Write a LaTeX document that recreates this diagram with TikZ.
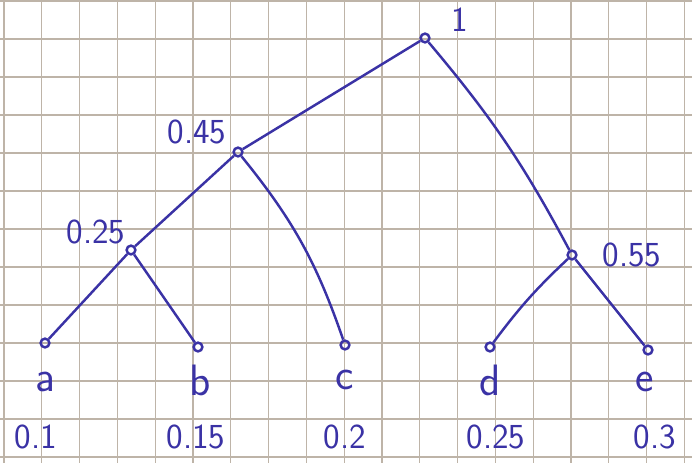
\documentclass[tikz,border=0pt]{standalone}
\usepackage{tikz}
\usetikzlibrary{positioning}
\definecolor{penblue}{RGB}{58,50,165}
\definecolor{gridgray}{RGB}{190,180,168}

\begin{document}
\begin{tikzpicture}[x=0.02cm,y=-0.02cm,
    knot/.style={circle,draw=penblue,line width=1.4pt,inner sep=0pt,minimum size=5pt},
    lab/.style={text=penblue,font=\sffamily\fontsize{20}{22}\selectfont},
    sym/.style={text=penblue,font=\sffamily\fontsize{25}{27}\selectfont},
    branch/.style={penblue,line width=1.4pt},
    gridline/.style={gridgray,line width=0.7pt}]
        \useasboundingbox (0,0) rectangle (692,463);
        % squared paper
        \foreach \i in {0,...,18} \draw[gridline] ({4+37.8*\i},0) -- ({4+37.8*\i},463);
        \foreach \j in {0,...,12} \draw[gridline] (0,{1+38*\j}) -- (692,{1+38*\j});
        % tree nodes
        \node[knot] (root) at (425,38) {};
        \node[knot] (n45) at (238,152) {};
        \node[knot] (n25) at (131,250) {};
        \node[knot] (n55) at (572,255) {};
        \node[knot] (a) at (45,343) {};
        \node[knot] (b) at (198,347) {};
        \node[knot] (c) at (345,345) {};
        \node[knot] (d) at (490,347) {};
        \node[knot] (e) at (648,350) {};
        \draw[branch] (root) -- (n45);
        \draw[branch] (root) to[bend left=6] (n55);
        \draw[branch] (n45) -- (n25);
        \draw[branch] (n45) to[bend left=10] (c);
        \draw[branch] (n25) -- (a);
        \draw[branch] (n25) -- (b);
        \draw[branch] (n55) to[bend right=5] (d);
        \draw[branch] (n55) -- (e);
        % weights of inner nodes
        \node[lab] (w1) at (460,20) {1};
        \node[lab] (w45) at (197,132) {0.45};
        \node[lab] (w25) at (96,232) {0.25};
        \node[lab] (w55) at (632,255) {0.55};
        % symbols and their probabilities
        \node[sym] (sa) at (45,382) {a};
        \node[sym] (sb) at (200,380) {b};
        \node[sym] (sc) at (345,380) {c};
        \node[sym] (sd) at (490,380) {d};
        \node[sym] (se) at (645,382) {e};
        \node[lab] (pa) at (36,437) {0.1};
        \node[lab] (pb) at (196,437) {0.15};
        \node[lab] (pc) at (345,437) {0.2};
        \node[lab] (pd) at (496,437) {0.25};
        \node[lab] (pe) at (655,437) {0.3};
    \end{tikzpicture}
\end{document}
